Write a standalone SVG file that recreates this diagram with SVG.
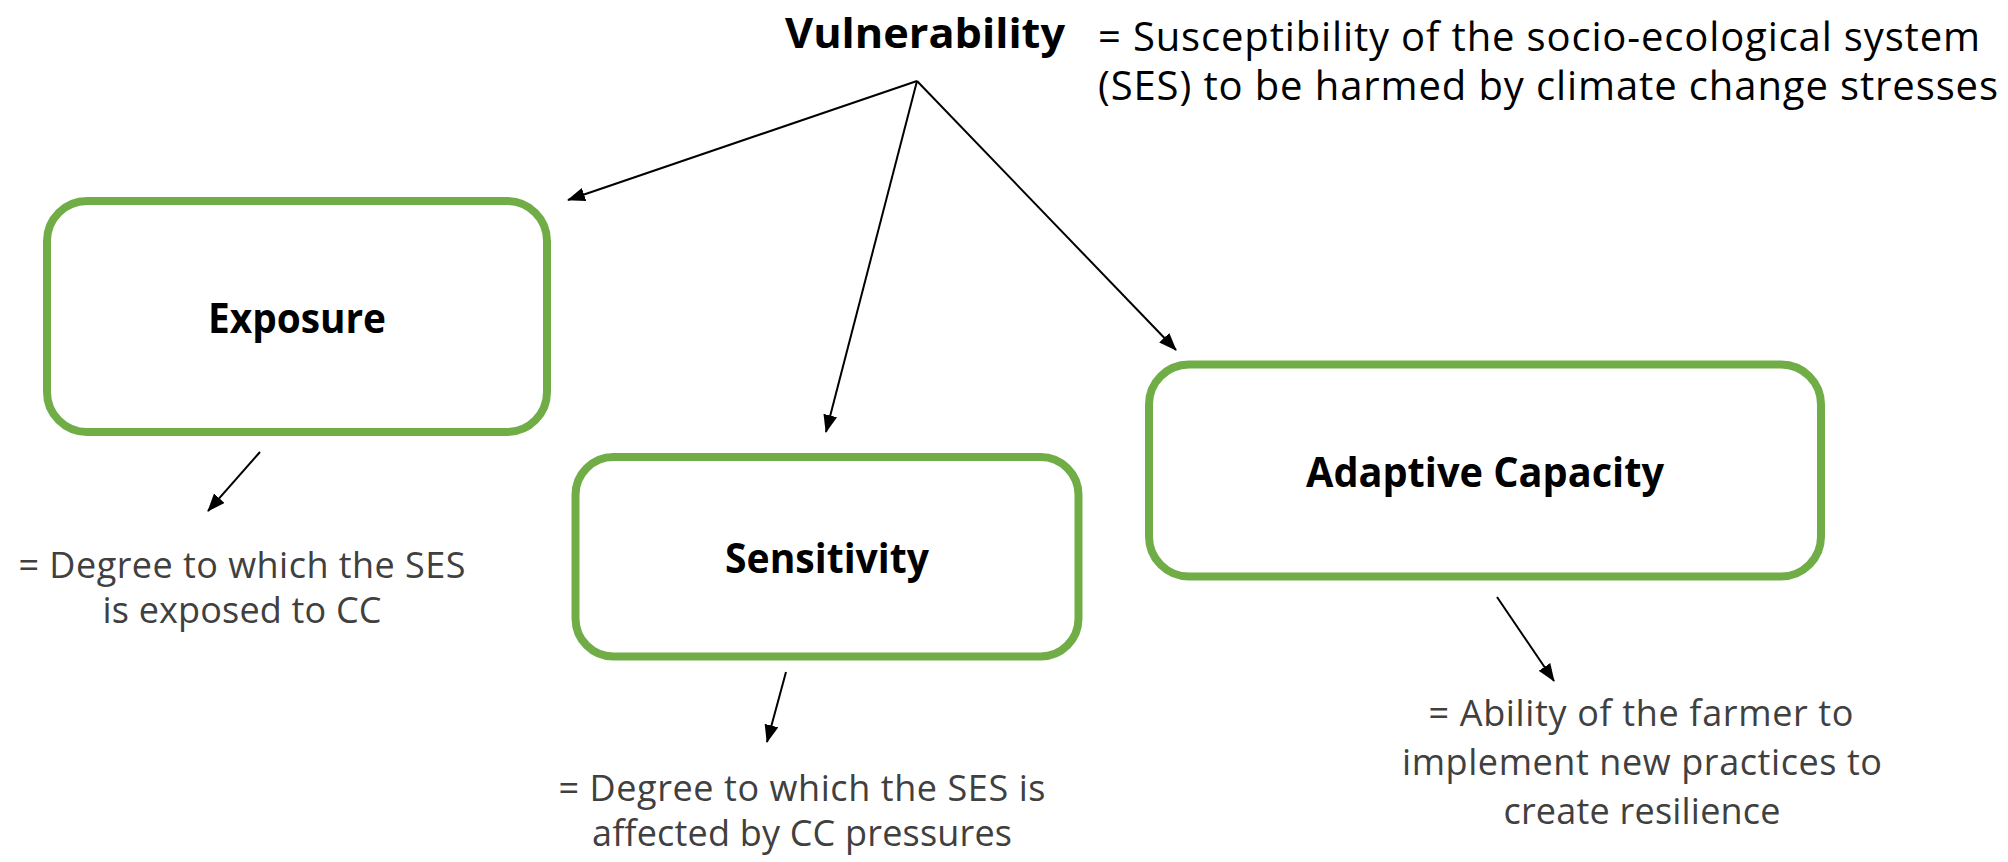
<svg xmlns="http://www.w3.org/2000/svg" width="2008" height="862" viewBox="0 0 2008 862">
  <defs>
    <marker id="arrow" markerUnits="userSpaceOnUse" markerWidth="22" markerHeight="16" refX="17" refY="7" orient="auto">
      <path d="M0,0 L18,7 L0,14 Z" fill="#000"/>
    </marker>
    <style>
      .box { fill: #fff; stroke: #70AD47; stroke-width: 8; }
      .label { font-family: "Open Sans", "Liberation Sans", sans-serif; font-weight: bold; font-size: 42px; fill: #000; text-anchor: middle; }
      .desc { font-family: "Open Sans", "Liberation Sans", sans-serif; font-size: 36px; fill: #404040; text-anchor: middle; }
      .top { font-family: "Open Sans", "Liberation Sans", sans-serif; font-size: 40px; fill: #000; }
      .conn { stroke: #000; stroke-width: 2; fill: none; marker-end: url(#arrow); }
    </style>
  </defs>
  <rect width="2008" height="862" fill="#fff"/>

  <g id="vulnerability">
    <text class="label" x="925" y="48" font-size="43" textLength="280" lengthAdjust="spacingAndGlyphs">Vulnerability</text>
    <text class="top" x="1098" y="51" textLength="882">= Susceptibility of the socio-ecological system</text>
    <text class="top" x="1098" y="100" textLength="900">(SES) to be harmed by climate change stresses</text>
  </g>

  <g id="exposure">
    <rect class="box" x="47" y="201" width="500" height="231" rx="40" ry="40"/>
    <text class="label" x="297" y="333" textLength="178" lengthAdjust="spacingAndGlyphs">Exposure</text>
  </g>

  <g id="sensitivity">
    <rect class="box" x="575.5" y="457" width="503" height="199.5" rx="38" ry="38"/>
    <text class="label" x="827" y="573" textLength="204" lengthAdjust="spacingAndGlyphs">Sensitivity</text>
  </g>

  <g id="adaptive-capacity">
    <rect class="box" x="1149" y="364.5" width="672" height="212" rx="40" ry="40"/>
    <text class="label" x="1485" y="487" textLength="358" lengthAdjust="spacingAndGlyphs">Adaptive Capacity</text>
  </g>

  <g id="exposure-definition">
    <text class="desc" x="242" y="578" textLength="447">= Degree to which the SES</text>
    <text class="desc" x="242" y="623" textLength="279">is exposed to CC</text>
  </g>

  <g id="sensitivity-definition">
    <text class="desc" x="802" y="801" textLength="487">= Degree to which the SES is</text>
    <text class="desc" x="802" y="846" textLength="420">affected by CC pressures</text>
  </g>

  <g id="adaptive-definition">
    <text class="desc" x="1641" y="726" textLength="425">= Ability of the farmer to</text>
    <text class="desc" x="1642" y="775" textLength="480">implement new practices to</text>
    <text class="desc" x="1642" y="824" textLength="277">create resilience</text>
  </g>

  <g id="connectors">
    <line class="conn" x1="917" y1="81" x2="568" y2="200"/>
    <line class="conn" x1="917" y1="81" x2="826" y2="432"/>
    <line class="conn" x1="917" y1="81" x2="1176" y2="350"/>
    <line class="conn" x1="260" y1="452" x2="208" y2="511"/>
    <line class="conn" x1="786" y1="672" x2="767" y2="742"/>
    <line class="conn" x1="1497" y1="597" x2="1554" y2="681"/>
  </g>
</svg>
